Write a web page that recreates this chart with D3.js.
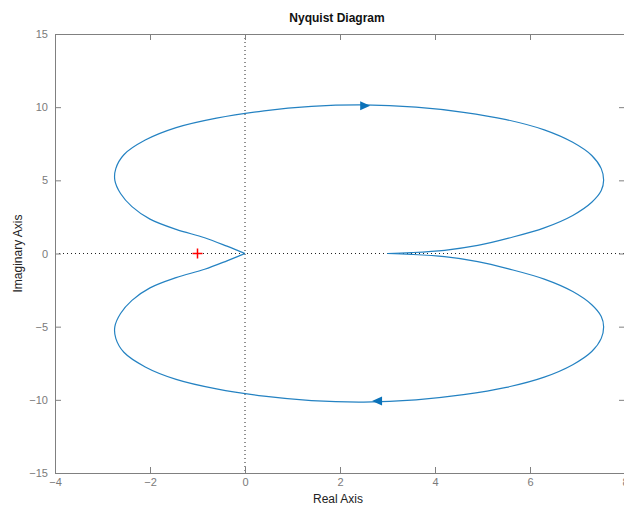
<!DOCTYPE html>
<meta charset="utf-8">
<style>
body { margin: 0; background: #fff; }
svg { font-family: "Liberation Sans", Arial, sans-serif; }
.axis path, .axis line { stroke: #808080; }
.axis text { fill: #7a7a7a; font-size: 11px; }
.curve { fill: none; stroke: #2482c2; stroke-width: 1.2px; }
.zero { stroke: #222; stroke-width: 1px; stroke-dasharray: 1,3; }
</style>
<svg width="624" height="506"></svg>
<script src="https://d3js.org/d3.v7.min.js"></script>
<script>
// positive-frequency branch (w: 0 -> inf)
var re = [3.0, 3.5, 4.2, 4.9, 5.55, 6.3, 6.9, 7.3, 7.5, 7.55, 7.5, 7.3, 6.9, 6.3, 5.5, 4.6, 3.6, 2.5, 1.4, 0.4, -0.6, -1.45, -2.1, -2.55, -2.72, -2.74, -2.62, -2.38, -2.0, -1.45, -0.85, -0.38, -0.1, 0];
var im = [0, -0.06, -0.22, -0.55, -1.05, -1.75, -2.6, -3.5, -4.3, -5.0, -5.8, -6.7, -7.6, -8.45, -9.15, -9.65, -10.0, -10.15, -10.05, -9.75, -9.25, -8.6, -7.75, -6.75, -5.8, -5.0, -4.1, -3.2, -2.35, -1.65, -1.08, -0.5, -0.13, 0];
// arrows: [re, im, direction(+1 right, -1 left)]
var arrows = [[2.53, 10.1, 1], [2.78, -10.08, -1]];
var critical = [-1, 0];
var xTicks = [-4, -2, 0, 2, 4, 6, 8];
var yTicks = [-15, -10, -5, 0, 5, 10, 15];

var svg = d3.select("svg"),
    margin = {top: 34, right: -1, bottom: 33, left: 55},
    width = +svg.attr("width") - margin.left - margin.right,
    height = +svg.attr("height") - margin.top - margin.bottom;

var x = d3.scaleLinear().domain([-4, 8]).range([0, width]),
    y = d3.scaleLinear().domain([-15, 15]).range([height, 0]);

var g = svg.append("g")
    .attr("transform", "translate(" + margin.left + "," + margin.top + ")");

// zero lines
g.append("line").attr("class", "zero")
    .attr("x1", x(0)).attr("x2", x(0)).attr("y1", 0).attr("y2", height);
g.append("line").attr("class", "zero")
    .attr("x1", 0).attr("x2", width).attr("y1", y(0)).attr("y2", y(0));

// axes on all four sides, ticks inward
g.append("g").attr("class", "axis")
    .attr("transform", "translate(0," + height + ")")
    .call(d3.axisBottom(x).tickValues(xTicks).tickSizeInner(-6).tickSizeOuter(0).tickPadding(5));
g.append("g").attr("class", "axis")
    .call(d3.axisTop(x).tickValues(xTicks).tickSizeInner(-6).tickSizeOuter(0).tickFormat(""));
g.append("g").attr("class", "axis")
    .call(d3.axisLeft(y).tickValues(yTicks).tickSizeInner(-6).tickSizeOuter(0).tickPadding(7));
g.append("g").attr("class", "axis")
    .attr("transform", "translate(" + width + ",0)")
    .call(d3.axisRight(y).tickValues(yTicks).tickSizeInner(-6).tickSizeOuter(0).tickFormat(""));

// curve: negative frequencies (conjugate) then positive
var pos = re.map(function(r, i) { return [r, im[i]]; });
var neg = pos.slice().reverse().map(function(p) { return [p[0], -p[1]]; });

var line = d3.line()
    .x(function(d) { return x(d[0]); })
    .y(function(d) { return y(d[1]); })
    .curve(d3.curveCatmullRom);

g.append("path").datum(neg).attr("class", "curve").attr("d", line);
g.append("path").datum(pos).attr("class", "curve").attr("d", line);

g.selectAll(".arrow")
  .data(arrows)
  .enter().append("path")
    .attr("fill", "#0b72b9")
    .attr("transform", function(d) {
      return "translate(" + x(d[0]) + "," + y(d[1]) + ")" + (d[2] < 0 ? " scale(-1,1)" : "");
    })
    .attr("d", "M5,0L-5,-4.5L-5,4.5Z");

// critical point
g.append("path")
    .attr("transform", "translate(" + x(critical[0]) + "," + y(critical[1]) + ")")
    .attr("d", "M-5,0H5M0,-5V5")
    .attr("stroke", "#ff0000").attr("stroke-width", 1.5);

// labels
svg.append("text")
    .attr("x", margin.left + width / 2 - 3).attr("y", 22)
    .attr("text-anchor", "middle").attr("font-weight", "bold").attr("font-size", "12px").attr("fill", "#111")
    .text("Nyquist Diagram");
svg.append("text")
    .attr("x", margin.left + width / 2 - 2).attr("y", 503)
    .attr("text-anchor", "middle").attr("font-size", "12px").attr("fill", "#222")
    .text("Real Axis");
svg.append("text")
    .attr("transform", "translate(22," + (margin.top + y(0)) + ") rotate(-90)")
    .attr("text-anchor", "middle").attr("font-size", "12px").attr("fill", "#222")
    .text("Imaginary Axis");
</script>
